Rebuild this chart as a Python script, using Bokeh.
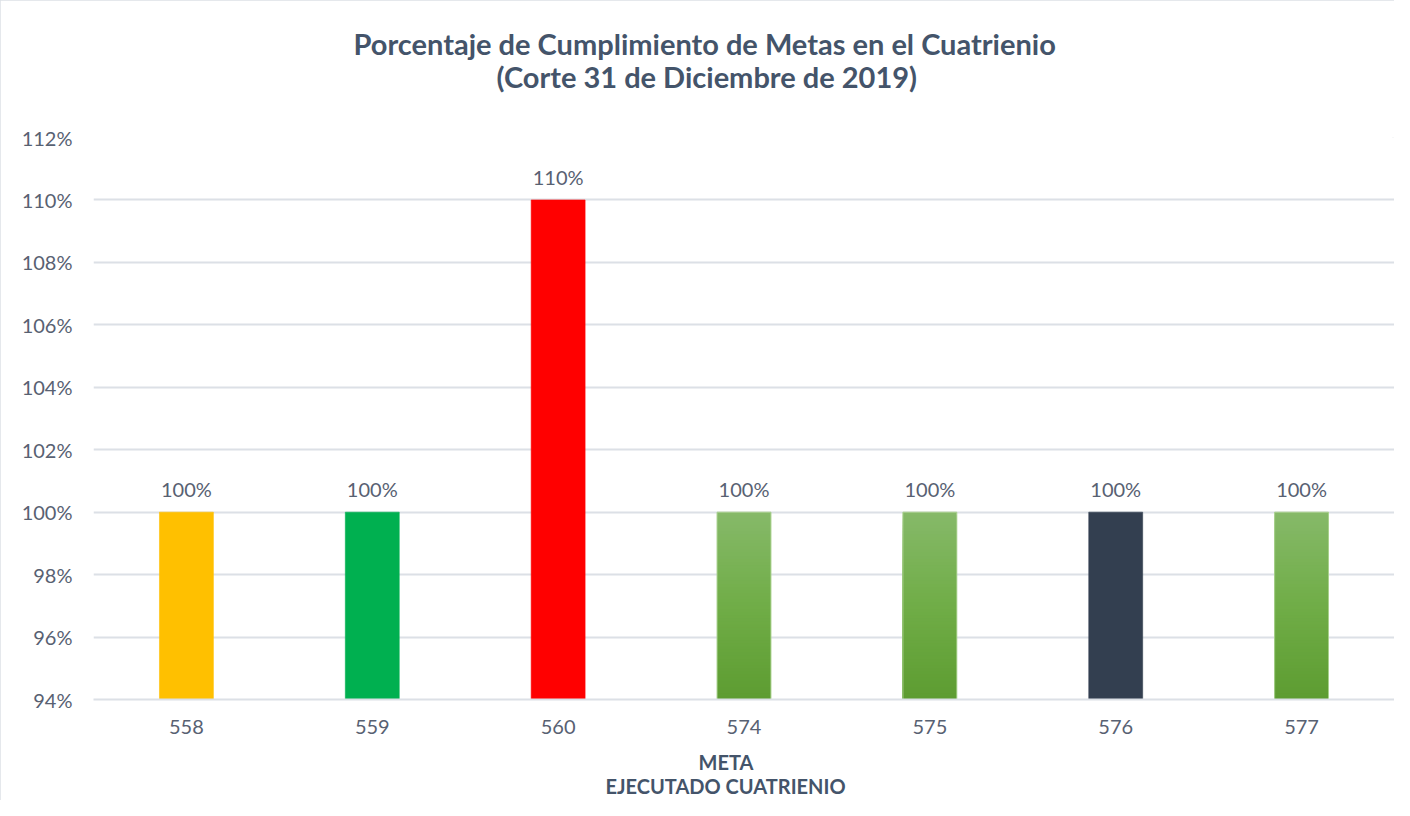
from bokeh.plotting import figure
from bokeh.models import ColumnDataSource, Range1d, FactorRange, PrintfTickFormatter, Title, FixedTicker
from bokeh.core.properties import value
from bokeh.embed import file_html
from bokeh.resources import INLINE

# ---- data ----
metas = ["558", "559", "560", "574", "575", "576", "577"]
cumplimiento = [100, 100, 110, 100, 100, 100, 100]
y_ticks = [94, 96, 98, 100, 102, 104, 106, 108, 110, 112]
titulo_1 = "Porcentaje de Cumplimiento de Metas en el Cuatrienio"
titulo_2 = "(Corte 31 de Diciembre de 2019)"
eje_x_1 = "META"
eje_x_2 = "EJECUTADO CUATRIENIO"

# ---- style ----
solid_colors = {"558": "#FFC000", "559": "#00B050", "560": "#FF0000", "576": "#333F50"}
gradient_cats = ["574", "575", "577"]
grad_top = (0x86, 0xB9, 0x69)
grad_mid = (0x70, 0xAD, 0x47)
grad_bot = (0x5D, 0x9C, 0x31)
FONT = "Lato"
TXT = "#586172"
TITLE_C = "#44546A"
GRID_C = "#DCE0E6"
BAR_W = 0.29
y_min, y_max = y_ticks[0], y_ticks[-1]

W, H = 1394, 800
LEFT, TOP, BOTTOM = 93, 137, 101

p = figure(width=W, height=H, output_backend="svg", toolbar_location=None,
           x_range=FactorRange(factors=metas, range_padding=0),
           y_range=Range1d(y_min, y_max),
           min_border_left=LEFT, min_border_right=0, min_border_top=TOP, min_border_bottom=BOTTOM)
p.title = None
p.outline_line_color = None
p.styles = {"outline": "2px solid #DCE0E6", "outline-offset": "-2px"}

# solid bars
sc = [m for m in metas if m in solid_colors]
src_solid = ColumnDataSource(dict(
    x=sc, top=[cumplimiento[metas.index(m)] for m in sc],
    color=[solid_colors[m] for m in sc]))
p.vbar(x="x", top="top", bottom=y_min, width=BAR_W, fill_color="color",
       line_color="color", line_alpha=0.6, source=src_solid)

# gradient bars: overlapping strips drawn from tallest to shortest (no seams)
def lerp(a, b, t):
    return tuple(int(round(a[i] + (b[i] - a[i]) * t)) for i in range(3))

gx, gt, gc = [], [], []
n = 60
for m in gradient_cats:
    v = cumplimiento[metas.index(m)]
    for k in range(n - 1, -1, -1):
        top_k = y_min + (v - y_min) * (k + 1) / n
        t = (k + 0.5) / n  # 1 at top, 0 at bottom
        if t > 0.5:
            c = lerp(grad_mid, grad_top, (t - 0.5) * 2)
        else:
            c = lerp(grad_bot, grad_mid, t * 2)
        gx.append(m); gt.append(top_k)
        gc.append("#%02x%02x%02x" % c)
p.vbar(x=gx, top=gt, bottom=y_min, width=BAR_W, fill_color=gc, line_color=None)
p.vbar(x=gradient_cats, top=[cumplimiento[metas.index(m)] for m in gradient_cats],
       bottom=y_min, width=BAR_W, fill_color=None, line_color="#A9D18E", line_width=1)

# data labels
lab_src = ColumnDataSource(dict(x=metas, y=cumplimiento, t=[f"{v}%" for v in cumplimiento]))
p.text(x="x", y="y", text="t", source=lab_src, text_align="center", text_baseline="bottom",
       y_offset=-11, text_font=value(FONT), text_font_size="20px", text_color=TXT)

# axes
p.yaxis.ticker = FixedTicker(ticks=y_ticks)
p.yaxis.formatter = PrintfTickFormatter(format="%d%%")
p.yaxis.axis_line_color = None
p.yaxis.major_tick_line_color = None
p.yaxis.minor_tick_line_color = None
p.yaxis.major_label_text_font = FONT
p.yaxis.major_label_text_font_size = "20px"
p.yaxis.major_label_text_color = TXT
p.yaxis.major_label_standoff = 15

p.xaxis.axis_line_color = GRID_C
p.xaxis.axis_line_width = 2
p.xaxis.major_tick_line_color = None
p.xaxis.minor_tick_line_color = None
p.xaxis.major_label_text_font = FONT
p.xaxis.major_label_text_font_size = "20px"
p.xaxis.major_label_text_color = TXT
p.xaxis.major_label_standoff = 14

p.xgrid.grid_line_color = None
p.ygrid.grid_line_color = GRID_C
p.ygrid.grid_line_width = 2

# titles (stacked outward from the frame); blank spacer titles set the gaps
def spacer(side, gap):
    p.add_layout(Title(text=" ", text_font_size="1px", standoff=gap), side)

def title(side, txt, size, off, standoff):
    p.add_layout(Title(text=txt, align="left", offset=off, text_font=FONT,
                       text_font_size=size, text_font_style="bold",
                       text_color=TITLE_C, standoff=standoff), side)

spacer("above", 43)
title("above", titulo_2, "29px", 403, -4)
title("above", titulo_1, "29px", 260, -4)

spacer("below", 8)
title("below", eje_x_1, "20px", 605, 0)
title("below", eje_x_2, "20px", 512, -4)

open("out.html", "w").write(file_html(p, INLINE))
